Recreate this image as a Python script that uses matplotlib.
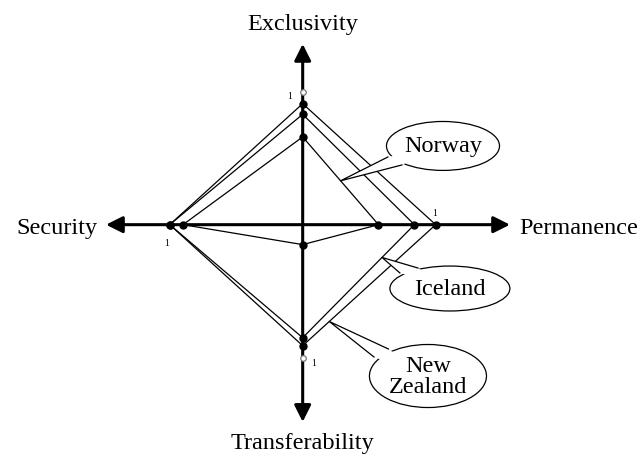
import numpy as np
import matplotlib
matplotlib.use("Agg")
import matplotlib.pyplot as plt
from matplotlib.patches import Ellipse, Polygon

# axis order: Permanence (+x), Exclusivity (+y), Security (-x), Transferability (-y)
axes_names = ["Permanence", "Exclusivity", "Security", "Transferability"]
countries = ["Norway", "Iceland", "New Zealand"]
permanence = [0.57, 0.84, 1.00]
exclusivity = [0.66, 0.83, 0.91]
security = [0.90, 1.00, 1.00]
transferability = [0.15, 0.85, 0.91]

plt.rcParams["font.family"] = ["Liberation Serif", "DejaVu Serif"]
fig = plt.figure(figsize=(6.43, 4.56), dpi=100, facecolor="white")
ax = fig.add_axes([0, 0, 1, 1])
ax.set_xlim(-2.276, 2.559); ax.set_ylim(-1.732, 1.697)
ax.axis("off")

# ---- axes with arrowheads
aprops = dict(arrowstyle="-|>,head_length=1.0,head_width=0.5", lw=2.2, color="k",
              shrinkA=0, shrinkB=0, mutation_scale=10)
for tip in [(1.559, 0), (0, 1.359), (-1.479, 0), (0, -1.483)]:
    ax.annotate("", xy=tip, xytext=(0, 0), arrowprops=aprops, zorder=2)

fs = 17.5
ax.text(0, 1.51, axes_names[1], ha="center", va="center", fontsize=fs)
ax.text(0, -1.635, axes_names[3], ha="center", va="center", fontsize=fs)
ax.text(-1.546, -0.02, axes_names[2], ha="right", va="center", fontsize=fs)
ax.text(1.626, -0.02, axes_names[0], ha="left", va="center", fontsize=fs)

# unit markers
ax.plot([0, 0], [1, -1], "o", ms=4, mfc="white", mec="#777777", mew=0.9, zorder=4)
for x, y in [(-0.096, 0.97), (0.08, -1.04), (0.995, 0.095), (-1.023, -0.132)]:
    ax.text(x, y, "1", ha="center", va="center", fontsize=7)

# ---- country polygons
for i, c in enumerate(countries):
    xs = [permanence[i], 0, -security[i], 0, permanence[i]]
    ys = [0, exclusivity[i], 0, -transferability[i], 0]
    ax.plot(xs, ys, color="k", lw=0.9, zorder=3)
    ax.plot(xs[:4], ys[:4], "o", color="k", ms=5, zorder=5)

# ---- callout balloons pointing at a spot on each country's outline
def edge_pt(i, t, upper):
    p = np.array([permanence[i], 0.0])
    q = np.array([0.0, exclusivity[i]]) if upper else np.array([0.0, -transferability[i]])
    return p + (q - p) * t

callouts = [
    ("Norway", (1.055, 0.592), 0.85, 0.368, (0.641, 0.509), (0.746, 0.449), edge_pt(0, 0.5, True)),
    ("Iceland", (1.107, -0.48), 0.902, 0.338, (0.867, -0.326), (0.731, -0.363), edge_pt(1, 0.29, False)),
    ("New\nZealand", (0.942, -1.138), 0.88, 0.474, (0.645, -0.935), (0.536, -0.995), edge_pt(2, 0.8, False)),
]
for label, cen, w, h, b1, b2, tip in callouts:
    ax.add_patch(Ellipse(cen, w, h, facecolor="white", edgecolor="k", lw=0.9, zorder=6))
    ax.add_patch(Polygon([b1, tip, b2, cen], closed=True, facecolor="white", edgecolor="none", zorder=7))
    ax.plot([b1[0], tip[0], b2[0]], [b1[1], tip[1], b2[1]], color="k", lw=0.9, zorder=8)
    ax.text(cen[0], cen[1], label, ha="center", va="center", fontsize=fs, linespacing=1.0, zorder=9)

fig.savefig("out.png", dpi=100, facecolor="white")
